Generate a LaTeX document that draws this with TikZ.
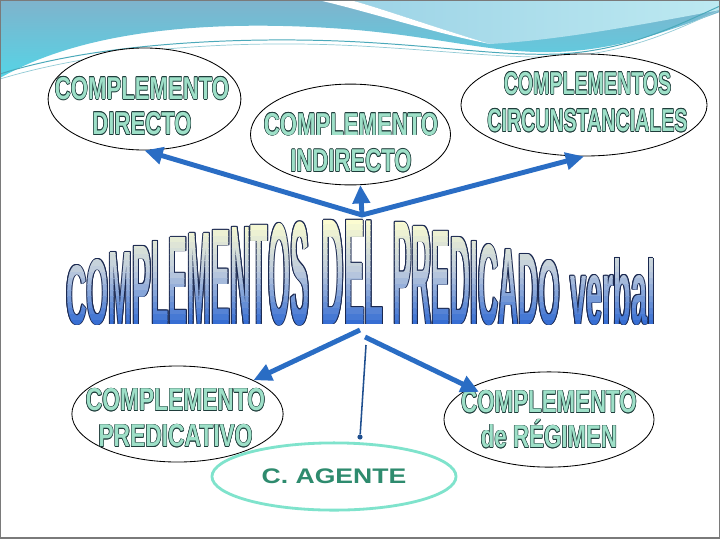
\documentclass[tikz,border=0pt]{standalone}
\usepackage{fontspec}
\setmainfont{Liberation Sans}
\usepackage{graphicx}
\usepackage{xcolor}
\usetikzlibrary{shapes.geometric,arrows.meta}
\definecolor{wamint}{HTML}{9EE0C8}
\definecolor{waedge}{HTML}{1E3C3A}
\definecolor{titleedge}{HTML}{1A2850}
\definecolor{titletop}{HTML}{FFFFD0}
\definecolor{titlemid}{HTML}{BCCADD}
\definecolor{titlebot}{HTML}{2E68D2}
\definecolor{arrowblue}{HTML}{2A6DC4}
\definecolor{linkblue}{HTML}{1F4F8F}
\definecolor{agentline}{HTML}{7FE3CC}
\definecolor{agenttext}{HTML}{2E8B6E}
\definecolor{wavetop}{HTML}{7FB3CC}
\definecolor{wavebot}{HTML}{55D4E6}
\definecolor{waveleft}{HTML}{9CD3E6}
\definecolor{waveright}{HTML}{BDE9F1}
\definecolor{waveline}{HTML}{4BA9BA}
\definecolor{framegray}{HTML}{7A7A7A}
\tikzset{
  oval/.style={ellipse, draw=black, line width=0.6pt, fill=white, inner sep=0pt},
  walab/.style={align=center, inner sep=0pt, font=\fontsize{22.5}{25}\selectfont\bfseries},
  agent/.style={ellipse, draw=agentline, line width=2pt, fill=white, inner sep=0pt,
    text=agenttext, font=\fontsize{15}{18}\selectfont\bfseries},
  bluearrow/.style={draw=arrowblue, line width=3.5pt, line join=miter},
  tipb/.tip={Triangle[length=13pt,width=12pt]},
  linkline/.style={draw=linkblue, line width=1.1pt},
  agdot/.style={circle, fill=linkblue, inner sep=1.3pt},
}
% outlined word-art text
\newcommand\outl[1]{\leavevmode
  \rlap{\kern-.55pt\textcolor{waedge}{#1}}%
  \rlap{\kern.55pt\textcolor{waedge}{#1}}%
  \rlap{\raisebox{.55pt}{\textcolor{waedge}{#1}}}%
  \rlap{\raisebox{-.55pt}{\textcolor{waedge}{#1}}}%
  \rlap{\kern-.4pt\raisebox{.4pt}{\textcolor{waedge}{#1}}}%
  \rlap{\kern.4pt\raisebox{.4pt}{\textcolor{waedge}{#1}}}%
  \rlap{\kern-.4pt\raisebox{-.4pt}{\textcolor{waedge}{#1}}}%
  \rlap{\kern.4pt\raisebox{-.4pt}{\textcolor{waedge}{#1}}}%
  \textcolor{wamint}{#1}}
\newcommand\wa[2][0.7]{\scalebox{#1}[1]{\outl{#2}}}
% arched title, one letter per node
\newcommand\predword[1]{%
  \foreach \ch/\xl/\xr/\tp in {C/66/86.5/265, O/86.5/108.6/259, M/108.6/132.3/252,
      P/132.3/151.2/246, L/151.2/168.6/241, E/168.6/187.5/237, M/187.5/211.2/233,
      E/211.2/230.1/230, N/230.1/250.6/227, T/250.6/268/225, O/268/290.1/223,
      S/290.1/309/221.5, D/321.5/344/220, E/344/364.6/220, L/364.6/383.5/220.5,
      P/393/411.5/222, R/411.5/431.6/226, E/431.6/450.1/231, D/450.1/470.2/237,
      I/470.2/477.9/241, C/477.9/498/244, A/498/518.1/249, D/518.1/538.2/254,
      O/538.2/559.8/260, verbal/570/655/258}{%
    \pgfmathsetlengthmacro\lw{(\xr-\xl)*0.7113pt}%
    \pgfmathsetlengthmacro\lh{(324-\tp)*0.7113pt}%
    \node[anchor=base west, inner sep=0pt, font=\bfseries, #1] at (\xl,324) {\resizebox{\lw}{\lh}{\ch}};
  }}

\begin{document}
\begin{tikzpicture}[x=0.025cm, y=-0.025cm]
  \useasboundingbox (0,0) rectangle (720,540);
  \fill[white] (0,0) rectangle (720,540);

  % waves at the top
  \shade[top color=wavetop, bottom color=wavebot]
    (0,0) -- (720,0) -- (720,12) .. controls (670,30) and (620,50) .. (555,52)
    .. controls (490,54) and (430,34) .. (330,28) .. controls (200,20) and (80,32) .. (0,78) -- cycle;
  \shade[left color=waveleft, right color=waveright]
    (350,0) -- (720,0) -- (720,10) .. controls (640,25) and (560,40) .. (490,44)
    .. controls (430,26) and (380,8) .. (350,0) -- cycle;
  \fill[white] (318,0) .. controls (370,12) and (430,32) .. (490,44)
    .. controls (430,26) and (380,8) .. (350,0) -- cycle;
  \draw[waveline, line width=0.7pt] (0,74) .. controls (100,42) and (250,36) .. (360,42)
    .. controls (450,47) and (500,56) .. (560,54) .. controls (630,50) and (680,24) .. (720,6);
  \draw[waveline!60, line width=0.5pt] (0,79) .. controls (110,46) and (250,40) .. (360,46)
    .. controls (450,51) and (500,58) .. (560,57) .. controls (630,53) and (680,28) .. (720,10);
  \draw[framegray, line width=0.8pt] (0.5,0.5) rectangle (719.5,538);

  % ellipses
  \node[oval, minimum width=4.82cm, minimum height=2.55cm] (cd) at (144.5,99) {};
  \node[oval, minimum width=5cm, minimum height=2.52cm] (ci) at (350.5,134.5) {};
  \node[oval, minimum width=6.15cm, minimum height=2.55cm] (cc) at (584,105) {};
  \node[oval, minimum width=5.28cm, minimum height=2.4cm] (cp) at (177.5,414) {};
  \node[oval, minimum width=5.25cm, minimum height=2.38cm] (cr) at (549,419.5) {};
  \node[agent, minimum width=6.1cm, minimum height=1.68cm] (ca) at (334,476.5)
    {\scalebox{1.26}[1]{C. AGENTE}};

  \node[walab] (cdtext) at (142,106) {\wa{COMPLEMENTO}\\\wa{DIRECTO}};
  \node[walab] (citext) at (351,142.5) {\wa{COMPLEMENTO}\\[1pt]\wa{INDIRECTO}};
  \node[walab] (cctext) at (587.5,102) {\wa[0.62]{COMPLEMENTOS}\\[1.5pt]\wa[0.62]{CIRCUNSTANCIALES}};
  \node[walab] (cptext) at (175.5,418) {\wa[0.72]{COMPLEMENTO}\\[0.6pt]\wa[0.72]{PREDICATIVO}};
  \node[walab] (crtext) at (549,419.5) {\wa[0.705]{COMPLEMENTO}\\\wa[0.705]{de RÉGIMEN}};

  % connectors
  \coordinate (hub) at (362,215);
  \coordinate (hubl) at (360,330);
  \coordinate (hubr) at (365,337);
  \coordinate (agtop) at (366,345);
  \node[agdot] (agdot) at (360,437) {};
  \draw[bluearrow, tipb-tipb] (cd.south) -- (hub) -- (cc.south);
  \draw[bluearrow, -tipb] (hub) -- (ci.-79);
  \draw[bluearrow, -tipb] (hubl) -- (cp.24);
  \draw[bluearrow, -tipb, shorten >=-7pt] (hubr) -- (cr.158);
  \draw[linkline] (agtop) -- (agdot);

  % title: outline, then banded gradient
  \foreach \dx/\dy in {0.9/0, -0.9/0, 0/0.9, 0/-0.9, 0.65/0.65, -0.65/0.65, 0.65/-0.65, -0.65/-0.65}{
    \begin{scope}[shift={(\dx,\dy)}]
      \predword{text=titleedge}
    \end{scope}
  }
  \foreach \i in {0,...,17}{
    \pgfmathsetmacro\ya{218+\i*6}
    \pgfmathsetmacro\yb{\ya+6.3}
    \pgfmathtruncatemacro\pa{min(100,(\i+0.5)*100/9)}
    \pgfmathtruncatemacro\pb{max(0,(\i+0.5-9)*100/9)}
    \colorlet{stripc}{titlebot!\pb!titlemid!\pa!titletop}
    \begin{scope}
      \clip (60,\ya) rectangle (662,\yb);
      \predword{text=stripc}
    \end{scope}
  }
\end{tikzpicture}
\end{document}
